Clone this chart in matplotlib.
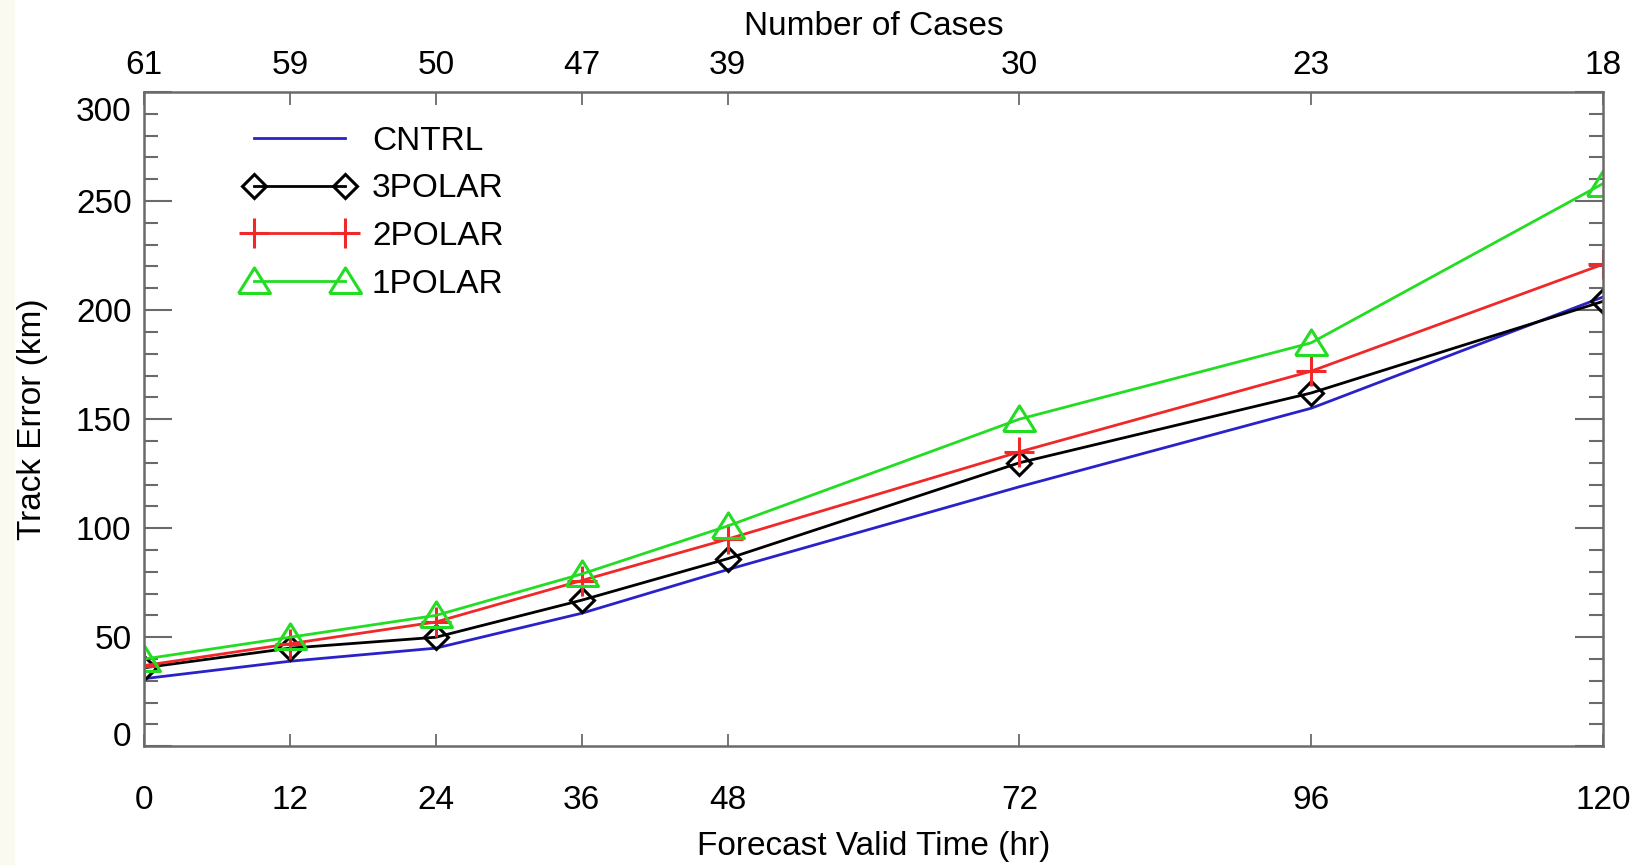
import matplotlib
matplotlib.use("Agg")
import matplotlib.pyplot as plt
from matplotlib.ticker import MultipleLocator, FixedLocator, FuncFormatter
from matplotlib.patches import Rectangle
from matplotlib.lines import Line2D
from matplotlib.legend_handler import HandlerLine2D
from matplotlib.transforms import offset_copy

plt.rcParams['font.family'] = ['Liberation Sans', 'DejaVu Sans']

hours = [0, 12, 24, 36, 48, 72, 96, 120]
cases = ['61', '59', '50', '47', '39', '30', '23', '18']
cntrl = [31, 39, 45, 61, 81, 119, 155, 206]
polar3 = [36, 45, 50, 67, 86, 130, 162, 204]
polar2 = [37, 47, 57, 76, 95, 135, 172, 221]
polar1 = [40, 50, 60, 79, 101, 150, 185, 258]

W, H = 1643, 865
fig = plt.figure(figsize=(W / 100, H / 100), dpi=100)
fig.patches.append(Rectangle((0, 0), 14 / W, 1, transform=fig.transFigure,
                             color='#fbfaf0', zorder=-10))
ax = fig.add_axes([144 / W, 1 - 746.3 / H, (1603 - 144) / W, (746.3 - 92) / H])

FS = 24
frame_col = '#6a6a6a'

ax.plot(hours, cntrl, color='#2a22c8', lw=2.0, label='CNTRL')
ax.plot(hours, polar3, color='black', lw=2.0, marker='D', ms=12.5, mfc='none',
        mew=2.2, label='3POLAR')
ax.plot(hours, polar2, color='#f02828', lw=2.0, marker='+', ms=21,
        mew=2.2, label='2POLAR')
tri = [(-1, -0.75), (1, -0.75), (0, 0.85), (-1, -0.75)]
ax.plot(hours, polar1, color='#22dd22', lw=2.0, marker=tri, ms=23, mfc='none',
        mew=2.2, label='1POLAR')

ax.set_xlim(0, 120)
ax.set_ylim(0, 300)
ax.xaxis.set_major_locator(FixedLocator(hours))
ax.set_xticklabels([str(h) for h in hours])
ax.yaxis.set_major_locator(MultipleLocator(50))
ax.yaxis.set_minor_locator(MultipleLocator(10))
ax.yaxis.set_major_formatter(FuncFormatter(
    lambda v, p: '' if v <= 0 or v >= 300 else f'{v:.0f}'))

for s in ax.spines.values():
    s.set_color(frame_col)
    s.set_linewidth(1.8)

ax.tick_params(axis='x', which='major', direction='in', length=9, width=1.3,
               color=frame_col, labelsize=FS, pad=28, top=False)
ax.tick_params(axis='y', which='major', direction='in', length=20, width=1.5,
               color=frame_col, labelsize=FS, pad=9, right=True)
ax.tick_params(axis='y', which='minor', direction='in', length=10, width=1.5,
               color=frame_col, right=True)

# end labels of the y axis sit inside the frame, as in the original
ytr = ax.get_yaxis_transform()
ax.text(0, 300, '300', fontsize=FS, ha='right', va='center',
        transform=offset_copy(ytr, fig=fig, x=-9, y=-15, units='points'))
ax.text(0, 0, '0', fontsize=FS, ha='right', va='center',
        transform=offset_copy(ytr, fig=fig, x=-9, y=6, units='points'))

ax2 = ax.twiny()
ax2.set_xlim(0, 120)
ax2.xaxis.set_major_locator(FixedLocator(hours))
ax2.set_xticklabels(cases)
ax2.tick_params(axis='x', direction='in', length=9, width=1.3, color=frame_col,
                labelsize=FS, pad=8)
for s in ax2.spines.values():
    s.set_visible(False)

ax.set_xlabel('Forecast Valid Time (hr)', fontsize=FS, labelpad=11)
ax.set_ylabel('Track Error (km)', fontsize=FS, labelpad=20)
ax2.set_xlabel('Number of Cases', fontsize=FS, labelpad=11)

leg = ax.legend(loc='upper left', bbox_to_anchor=(0.066, 0.969), frameon=False,
                fontsize=FS, numpoints=2, handlelength=2.75, handletextpad=0.8,
                labelspacing=0.5, borderaxespad=0,
                handler_map={Line2D: HandlerLine2D(marker_pad=0, numpoints=2)})

fig.savefig('out.png', dpi=100)
